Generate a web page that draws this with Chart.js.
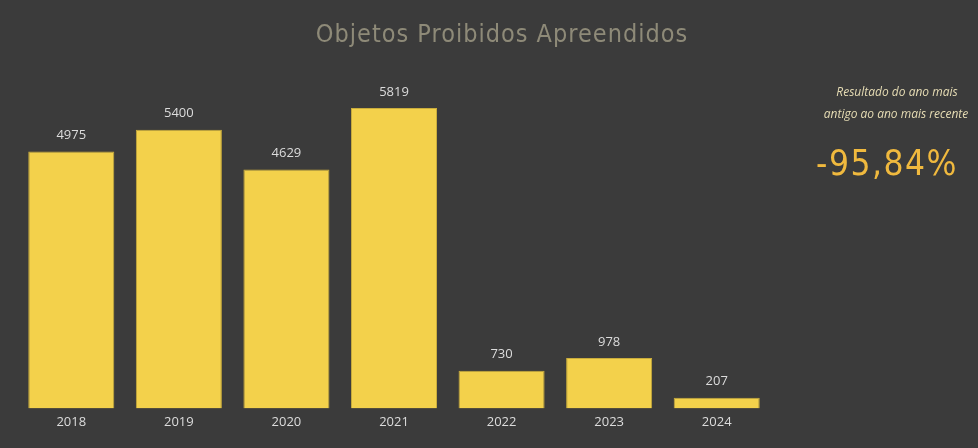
<!DOCTYPE html>
<html>
<head>
<meta charset="utf-8">
<script src="https://cdn.jsdelivr.net/npm/chart.js@4.4.1/dist/chart.umd.min.js"></script>
<style>
  html, body { margin: 0; padding: 0; background: #3b3b3b; }
  #wrap { position: relative; width: 978px; height: 448px; }
</style>
</head>
<body>
<div id="wrap"><canvas id="chart" width="978" height="448"></canvas></div>
<script>
const years = ['2018', '2019', '2020', '2021', '2022', '2023', '2024'];
const seized = [4975, 5400, 4629, 5819, 730, 978, 207];
const titleText = 'Objetos Proibidos Apreendidos';
const noteLines = ['Resultado do ano mais', 'antigo ao ano mais recente'];
const changeText = '-95,84%';

// title, side note and value labels
const overlay = {
  id: 'overlay',
  afterDatasetsDraw(chart) {
    const ctx = chart.ctx;
    ctx.save();
    ctx.textAlign = 'center';
    ctx.textBaseline = 'middle';

    ctx.fillStyle = '#8e8a78';
    ctx.font = '25px "DejaVu Sans Condensed", "DejaVu Sans", sans-serif';
    ctx.letterSpacing = '1px';
    ctx.fillText(titleText, 502, 35);
    ctx.letterSpacing = '0px';

    ctx.fillStyle = '#e6dcb4';
    ctx.font = 'italic 12px "Open Sans", sans-serif';
    ctx.fillText(noteLines[0], 897, 93);
    ctx.fillText(noteLines[1], 896, 115);

    ctx.fillStyle = '#f0b93e';
    ctx.font = '35px "DejaVu Sans Condensed", "DejaVu Sans", sans-serif';
    ctx.letterSpacing = '1.5px';
    ctx.fillText(changeText, 887, 166);
    ctx.letterSpacing = '0px';

    ctx.fillStyle = '#dcdcdc';
    ctx.font = '13px "Open Sans", sans-serif';
    const meta = chart.getDatasetMeta(0);
    meta.data.forEach((bar, i) => {
      ctx.fillText(String(seized[i]), bar.x, bar.y - 16);
    });
    ctx.restore();
  }
};

new Chart(document.getElementById('chart'), {
  type: 'bar',
  data: {
    labels: years,
    datasets: [{
      data: seized,
      backgroundColor: '#f3d14b',
      borderColor: '#c9ac3c',
      borderWidth: 1,
      barPercentage: 0.8,
      categoryPercentage: 1
    }]
  },
  options: {
    responsive: false,
    animation: false,
    layout: { padding: { left: 17.5, right: 207.5, top: 60, bottom: 20 } },
    plugins: { legend: { display: false }, tooltip: { enabled: false } },
    scales: {
      x: {
        grid: { display: false },
        border: { display: false },
        ticks: { color: '#dcdcdc', font: { family: 'Open Sans', size: 13 }, padding: -2 }
      },
      y: {
        display: false,
        min: 0,
        max: 6750
      }
    }
  },
  plugins: [overlay]
});
</script>
</body>
</html>
